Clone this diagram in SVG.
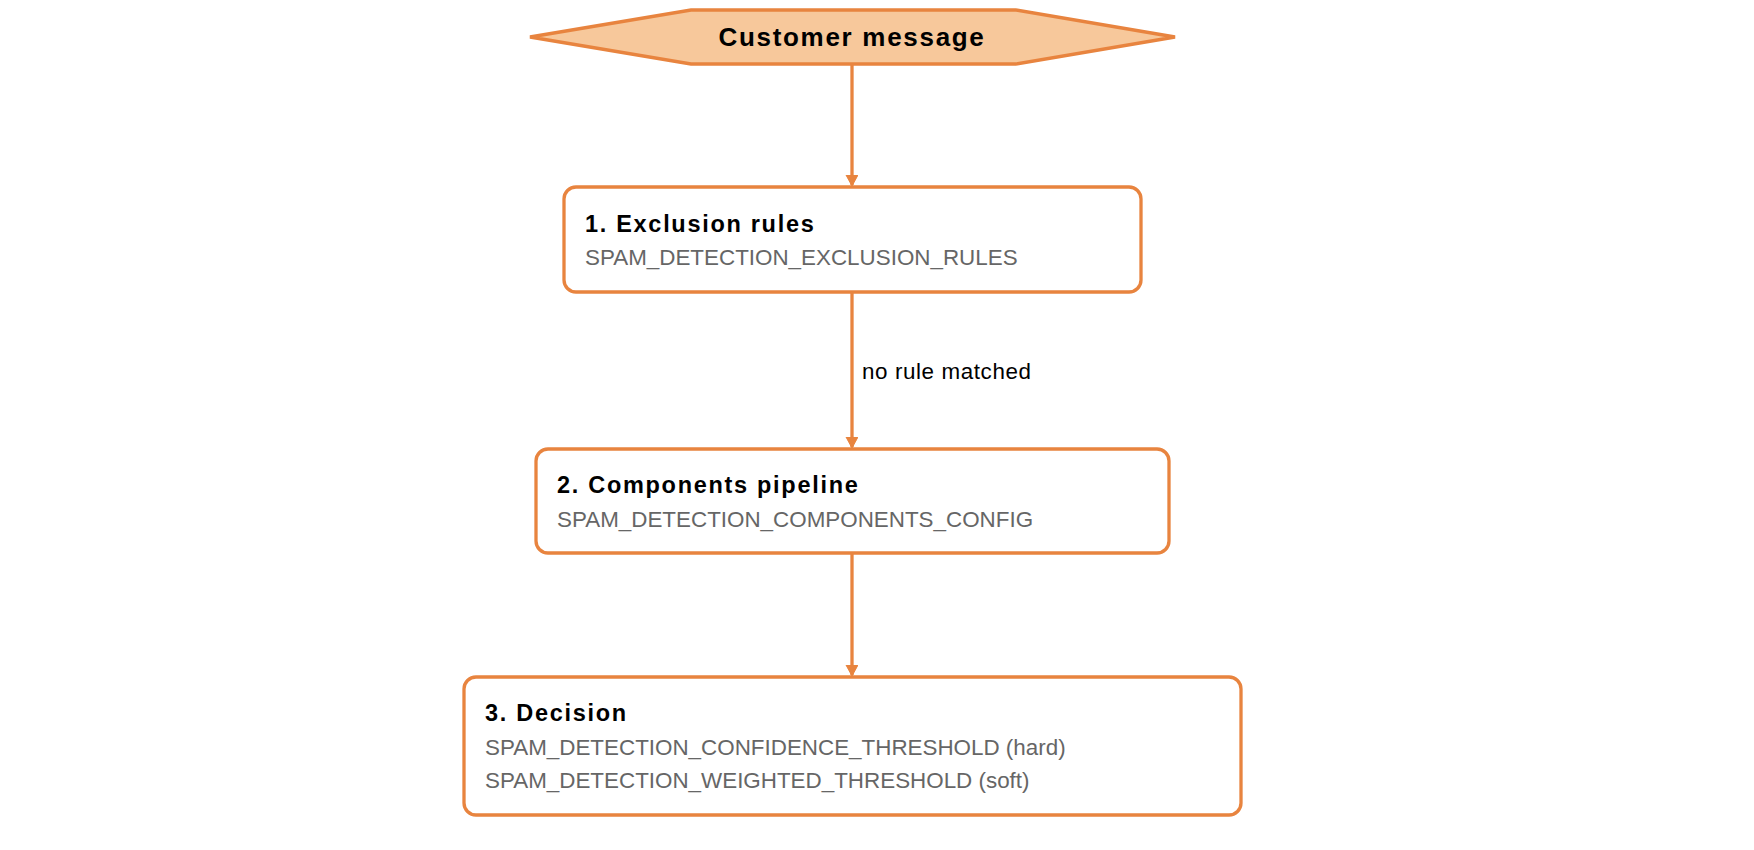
<svg xmlns="http://www.w3.org/2000/svg" width="1754" height="850" viewBox="0 0 1754 850">
<style>
.box{fill:#fff;stroke:#e8843f;stroke-width:3.3}
.t{font-family:"Liberation Sans",Arial,sans-serif;font-weight:bold;font-size:23.5px;letter-spacing:1.7px;fill:#000}
.s{font-family:"Liberation Sans",Arial,sans-serif;font-size:22.4px;fill:#666}
.e{stroke:#e8843f;stroke-width:3.3;fill:none;marker-end:url(#a)}
</style>
<defs><marker id="a" markerWidth="12" markerHeight="14" refX="10" refY="6" orient="auto" markerUnits="userSpaceOnUse"><path d="M0,0 L11,6 L0,12 Z" fill="#e8843f" stroke="#e8843f"/></marker></defs>
<rect width="1754" height="850" fill="#fff"/>
<g id="start"><polygon points="530,37 691,10 1016,10 1175,37 1016,64 691,64" fill="#f7c89b" stroke="#e8843f" stroke-width="3.3"/><text class="t" x="852" y="46" text-anchor="middle" style="font-size:26px">Customer message</text></g>
<g id="n1"><rect class="box" x="564" y="187" width="577" height="105" rx="12"/><text class="t" x="585" y="232">1. Exclusion rules</text><text class="s" x="585" y="265">SPAM_DETECTION_EXCLUSION_RULES</text></g>
<g id="n2"><rect class="box" x="536" y="449" width="633" height="104" rx="12"/><text class="t" x="557" y="493">2. Components pipeline</text><text class="s" x="557" y="527">SPAM_DETECTION_COMPONENTS_CONFIG</text></g>
<g id="n3"><rect class="box" x="464" y="677" width="777" height="138" rx="12"/><text class="t" x="485" y="721">3. Decision</text><text class="s" x="485" y="755">SPAM_DETECTION_CONFIDENCE_THRESHOLD (hard)</text><text class="s" x="485" y="788">SPAM_DETECTION_WEIGHTED_THRESHOLD (soft)</text></g>
<g id="edges">
<path class="e" d="M852,65 V185"/>
<path class="e" d="M852,293 V447"/>
<path class="e" d="M852,554 V675"/>
<text x="862" y="379" font-family="Liberation Sans,Arial,sans-serif" font-size="22.4" letter-spacing="0.6" fill="#000">no rule matched</text>
</g>
</svg>
